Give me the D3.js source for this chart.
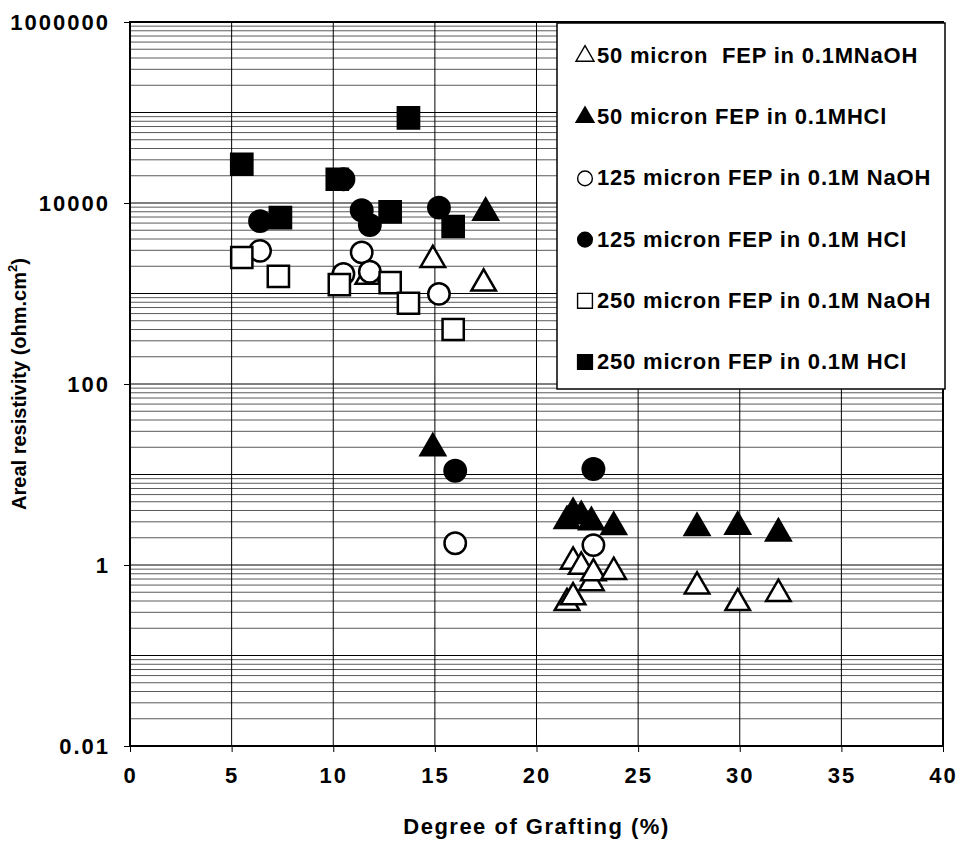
<!DOCTYPE html>
<html>
<head>
<meta charset="utf-8">
<script src="https://cdnjs.cloudflare.com/ajax/libs/d3/7.8.5/d3.min.js"></script>
<style>
  body { margin: 0; background: #fff; }
  svg text { font-family: "Liberation Sans", Arial, sans-serif; font-weight: bold; fill: #000; }
</style>
</head>
<body>
<div id="chart"></div>
<script>
// values: [degree of grafting %, areal resistivity]
var tri50NaOH = [[11.7, 1530], [14.9, 2350], [17.4, 1290], [21.5, 0.38], [21.8, 0.44], [21.8, 1.09],
                 [22.2, 0.96], [22.7, 0.63], [22.8, 0.81], [23.8, 0.84], [27.9, 0.58], [29.9, 0.38], [31.9, 0.48]];
var tri50HCl = [[14.9, 19.5], [17.5, 7800], [21.5, 3.06], [21.8, 3.76], [22.2, 3.47], [22.7, 2.98],
                [23.8, 2.63], [27.9, 2.57], [29.9, 2.65], [31.9, 2.24]];
var circ125NaOH = [[6.4, 2960], [10.5, 1640], [11.4, 2850], [11.8, 1740], [15.2, 990], [16.0, 1.74], [22.8, 1.66]];
var circ125HCl = [[6.4, 6300], [10.5, 18300], [11.4, 8300], [11.8, 5700], [15.2, 8900], [16.0, 11], [22.8, 11.5]];
var sq250NaOH = [[5.5, 2500], [7.3, 1550], [10.3, 1250], [12.8, 1320], [13.7, 780], [15.9, 400]];
var sq250HCl = [[5.5, 26800], [7.4, 6900], [10.2, 18300], [12.8, 8000], [13.7, 87000], [15.9, 5500]];

var seriesNames = ["50 micron  FEP in 0.1MNaOH", "50 micron FEP in 0.1MHCl", "125 micron FEP in 0.1M NaOH",
                   "125 micron FEP in 0.1M HCl", "250 micron FEP in 0.1M NaOH", "250 micron FEP in 0.1M HCl"];
var xTicks = [0, 5, 10, 15, 20, 25, 30, 35, 40];
var yTicks = [0.01, 1, 100, 10000, 1000000];
var yTickLabels = ["0.01", "1", "100", "10000", "1000000"];

var series = [
  {name: seriesNames[0], data: tri50NaOH, shape: d3.symbolTriangle, filled: false},
  {name: seriesNames[1], data: tri50HCl, shape: d3.symbolTriangle, filled: true},
  {name: seriesNames[2], data: circ125NaOH, shape: d3.symbolCircle, filled: false},
  {name: seriesNames[3], data: circ125HCl, shape: d3.symbolCircle, filled: true},
  {name: seriesNames[4], data: sq250NaOH, shape: d3.symbolSquare, filled: false},
  {name: seriesNames[5], data: sq250HCl, shape: d3.symbolSquare, filled: true}
];

var width = 960, height = 845;
var margin = {left: 130, right: 17, top: 22, bottom: 99};

var svg = d3.select("#chart").append("svg")
    .attr("width", width)
    .attr("height", height);

var x = d3.scaleLinear().domain([0, 40]).range([margin.left, width - margin.right]);
var y = d3.scaleLog().domain([0.01, 1000000]).range([height - margin.bottom, margin.top]);

// gridlines: minor (2..9 per decade), then major
var minor = [];
for (var e = -2; e < 6; e++) {
  for (var m = 2; m <= 9; m++) minor.push(m * Math.pow(10, e));
}
var decades = d3.range(-2, 7).map(function(e) { return Math.pow(10, e); });

svg.append("g").selectAll("line").data(minor).enter().append("line")
    .attr("x1", x(0)).attr("x2", x(40))
    .attr("y1", function(d) { return y(d); }).attr("y2", function(d) { return y(d); })
    .attr("stroke", "#5a5a5a").attr("stroke-width", 1);

svg.append("g").selectAll("line").data(decades).enter().append("line")
    .attr("x1", x(0)).attr("x2", x(40))
    .attr("y1", function(d) { return y(d); }).attr("y2", function(d) { return y(d); })
    .attr("stroke", "#000").attr("stroke-width", 1);

svg.append("g").selectAll("line").data(xTicks).enter().append("line")
    .attr("x1", function(d) { return x(d); }).attr("x2", function(d) { return x(d); })
    .attr("y1", y(0.01)).attr("y2", y(1000000))
    .attr("stroke", "#000").attr("stroke-width", 1);

// axes
var xAxis = d3.axisBottom(x).tickValues(xTicks).tickSize(6).tickPadding(15);
var yAxis = d3.axisLeft(y).tickValues(yTicks).tickSize(6).tickPadding(14)
    .tickFormat(function(d, i) { return yTickLabels[i]; });

var gx = svg.append("g").attr("transform", "translate(0," + y(0.01) + ")").call(xAxis);
var gy = svg.append("g").attr("transform", "translate(" + x(0) + ",0)").call(yAxis);
[gx, gy].forEach(function(g) {
  g.select(".domain").remove();
  g.selectAll("line").attr("stroke", "#000");
  g.selectAll("text").style("font-size", "22px").style("letter-spacing", "2px");
});

// plot border
svg.append("rect")
    .attr("x", x(0)).attr("y", y(1000000))
    .attr("width", x(40) - x(0)).attr("height", y(0.01) - y(1000000))
    .attr("fill", "none").attr("stroke", "#000").attr("stroke-width", 2);

// points
series.forEach(function(s) {
  var sym = d3.symbol().type(s.shape)
      .size(s.shape === d3.symbolCircle ? 360 : (s.shape === d3.symbolSquare ? 450 : 260));
  svg.append("g").selectAll("path").data(s.data).enter().append("path")
      .attr("d", sym)
      .attr("transform", function(d) { return "translate(" + x(d[0]) + "," + y(d[1]) + ")"; })
      .attr("fill", s.filled ? "#000" : "#fff")
      .attr("stroke", "#000")
      .attr("stroke-width", 2.5);
});

// legend
var legend = svg.append("g");
legend.append("rect")
    .attr("x", 557).attr("y", 23)
    .attr("width", 388).attr("height", 366)
    .attr("fill", "#fff").attr("stroke", "#000").attr("stroke-width", 1.5);

var rowY = d3.scalePoint().domain(seriesNames).range([55, 361]);
series.forEach(function(s) {
  var cy = rowY(s.name);
  legend.append("path")
      .attr("d", d3.symbol().type(s.shape)
          .size(s.shape === d3.symbolCircle ? 170 : (s.shape === d3.symbolSquare ? 220 : 140)))
      .attr("transform", "translate(585," + (cy + 1) + ")")
      .attr("fill", s.filled ? "#000" : "#fff")
      .attr("stroke", "#000").attr("stroke-width", 1.4);
  legend.append("text")
      .attr("x", 597).attr("y", cy + 8)
      .style("font-size", "22px")
      .style("letter-spacing", "0.8px")
      .style("white-space", "pre")
      .text(s.name);
});

// axis titles
svg.append("text")
    .attr("x", (x(0) + x(40)) / 2).attr("y", 834)
    .attr("text-anchor", "middle")
    .style("font-size", "22px")
    .style("letter-spacing", "1.5px")
    .text("Degree of Grafting (%)");

var yTitle = svg.append("text")
    .attr("transform", "translate(26," + (y(0.01) + y(1000000)) / 2 + ") rotate(-90)")
    .attr("text-anchor", "middle")
    .style("font-size", "20px");
yTitle.append("tspan").text("Areal resistivity (ohm.cm");
yTitle.append("tspan").attr("dy", -9).style("font-size", "13px").text("2");
yTitle.append("tspan").attr("dy", 9).text(")");
</script>
</body>
</html>
